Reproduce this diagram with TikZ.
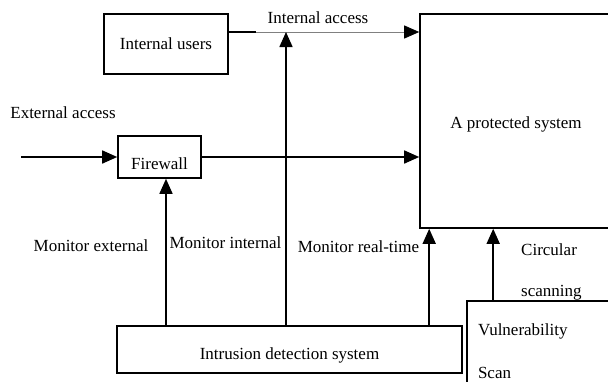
\documentclass[tikz,border=0pt]{standalone}
\usepackage{fontspec}
\setmainfont{Liberation Serif}
\usetikzlibrary{arrows.meta}
\newcommand{\LW}{1.6pt}

\begin{document}
\begin{tikzpicture}[x=1pt, y=-1pt,
    box/.style={draw=black, line width=\LW, inner sep=0pt, font=\fontsize{17}{20}\selectfont},
    link/.style={draw=black, line width=\LW},
    tip/.style={-{Triangle[length=15pt, width=13pt, color=black]}},
    tag/.style={font=\fontsize{17}{20}\selectfont, inner sep=0pt},
  ]
  \useasboundingbox (0,0) rectangle (608,381);
  \clip (0,0) rectangle (608,381);

  %% ---------------- boxes ----------------
  \node[box, minimum width=124pt, minimum height=60pt] (users) at (166,44) {Internal users};
  \node[box, minimum width=192pt, minimum height=214pt, text height=18.7pt, text depth=3.7pt] (prot) at (516,121) {A protected system};
  \node[box, minimum width=83pt, minimum height=42pt, text height=25pt, text depth=0pt] (fw) at (159.5,157) {Firewall};
  \node[box, minimum width=345pt, minimum height=47pt, text height=23.5pt, text depth=3.7pt] (ids) at (289.5,349.5) {Intrusion detection system};
  \node[box, minimum width=170pt, minimum height=100pt, align=left, text width=148pt,
        font=\fontsize{17}{43}\selectfont] (vuln) at (552,351) {Vulnerability\\Scan};

  %% ---------------- access paths ----------------
  \coordinate (ext) at (21,157);
  \coordinate (ia) at (256,32);
  \coordinate (mi) at (286,32);
  \draw[link, tip] (ext) -- (fw.west);
  \draw[link, tip] (fw.east) -- (fw.east -| prot.west);
  \draw[link] (users.east |- ia) -- (ia);
  \draw[gray, line width=0.8pt, tip] (ia) -- (ia -| prot.west);

  %% ---------------- monitoring ----------------
  \draw[link, tip] ([xshift=6.5pt]fw.south |- ids.north) -- ([xshift=6.5pt]fw.south);
  \draw[link, tip] (ids.north -| mi) -- (mi);
  \draw[link, tip] ([xshift=10pt]prot.south west |- ids.north) -- ([xshift=10pt]prot.south west);
  \draw[link, tip] ([xshift=74pt]prot.south west |- vuln.north) -- ([xshift=74pt]prot.south west);

  %% ---------------- labels ----------------
  \node[tag] (tIA) at (318,18) {Internal access};
  \node[tag] (tEA) at (63,113) {External access};
  \node[tag] (tME) at (91,246) {Monitor external};
  \node[tag] (tMI) at (225.5,243) {Monitor internal};
  \node[tag] (tMR) at (358.5,247) {Monitor real-time};
  \node[tag, anchor=west, align=left, font=\fontsize{17}{41}\selectfont] (tCS) at (521,271.5) {Circular\\scanning};
\end{tikzpicture}
\end{document}
